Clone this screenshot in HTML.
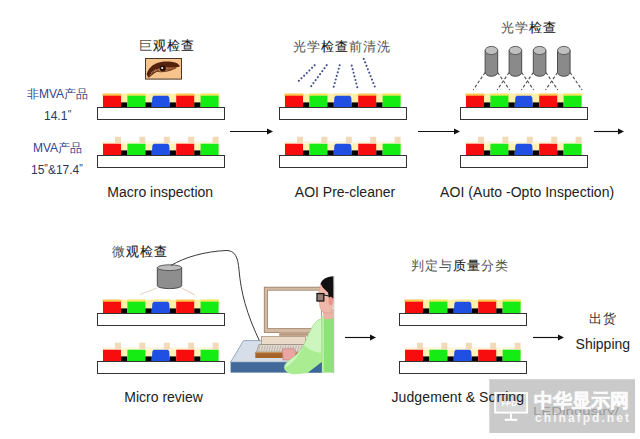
<!DOCTYPE html>
<html><head><meta charset="utf-8"><style>
html,body{margin:0;padding:0;background:#fff;}
body{width:640px;height:439px;position:relative;overflow:hidden;font-family:"Liberation Sans",sans-serif;}
svg{position:absolute;left:0;top:0;}
.t{position:absolute;white-space:nowrap;line-height:1;}
</style></head><body>
<svg width="640" height="439" viewBox="0 0 640 439">
<rect x="102.5" y="93.8" width="116.6" height="9" fill="#fff0a8"/>
<rect x="102.4" y="93.4" width="19.2" height="2.6" rx="1" fill="#ffc850"/>
<rect x="126.8" y="93.4" width="19.2" height="2.6" rx="1" fill="#f4e860"/>
<rect x="151.2" y="93.4" width="19.2" height="2.6" rx="1" fill="#ffe8a0"/>
<rect x="175.6" y="93.4" width="19.2" height="2.6" rx="1" fill="#ffc850"/>
<rect x="200.0" y="93.4" width="19.2" height="2.6" rx="1" fill="#f4e860"/>
<rect x="103.0" y="95.7" width="18.0" height="11.3" fill="#f70d0d"/>
<rect x="121.0" y="102.4" width="6.4" height="4.6" fill="#000"/>
<rect x="127.4" y="95.7" width="18.0" height="11.3" fill="#14ec14"/>
<rect x="145.4" y="102.4" width="6.4" height="4.6" fill="#000"/>
<path d="M151.6,107 L152.4,97.5 L153.6,95.7 L168.0,95.7 L169.2,97.5 L170.0,107 Z" fill="#1f4fe3"/>
<rect x="169.8" y="102.4" width="6.4" height="4.6" fill="#000"/>
<rect x="176.2" y="95.7" width="18.0" height="11.3" fill="#f70d0d"/>
<rect x="194.2" y="102.4" width="6.4" height="4.6" fill="#000"/>
<rect x="200.6" y="95.7" width="18.0" height="11.3" fill="#14ec14"/>
<rect x="97.5" y="107.5" width="127" height="12" fill="#fff" stroke="#333" stroke-width="1"/>
<rect x="102.5" y="141.6" width="116.6" height="9" fill="#fff2b4"/>
<rect x="102.5" y="141.6" width="116.6" height="2.2" fill="#fff6e0"/>
<rect x="103.0" y="143.7" width="18.0" height="11.3" fill="#f70d0d"/>
<rect x="121.0" y="150.4" width="6.4" height="4.6" fill="#000"/>
<rect x="115.0" y="136.7" width="6" height="6.5" fill="#f2d9b8"/>
<rect x="127.4" y="143.7" width="18.0" height="11.3" fill="#14ec14"/>
<rect x="145.4" y="150.4" width="6.4" height="4.6" fill="#000"/>
<rect x="139.4" y="136.7" width="6" height="6.5" fill="#f2d9b8"/>
<path d="M151.6,155 L152.4,145.5 L153.6,143.7 L168.0,143.7 L169.2,145.5 L170.0,155 Z" fill="#1f4fe3"/>
<rect x="169.8" y="150.4" width="6.4" height="4.6" fill="#000"/>
<rect x="163.8" y="136.7" width="6" height="6.5" fill="#f2d9b8"/>
<rect x="176.2" y="143.7" width="18.0" height="11.3" fill="#f70d0d"/>
<rect x="194.2" y="150.4" width="6.4" height="4.6" fill="#000"/>
<rect x="188.2" y="136.7" width="6" height="6.5" fill="#f2d9b8"/>
<rect x="200.6" y="143.7" width="18.0" height="11.3" fill="#14ec14"/>
<rect x="212.6" y="136.7" width="6" height="6.5" fill="#f2d9b8"/>
<rect x="97.5" y="155.5" width="127" height="12" fill="#fff" stroke="#333" stroke-width="1"/>
<rect x="284.5" y="93.8" width="116.6" height="9" fill="#fff0a8"/>
<rect x="284.4" y="93.4" width="19.2" height="2.6" rx="1" fill="#ffc850"/>
<rect x="308.8" y="93.4" width="19.2" height="2.6" rx="1" fill="#f4e860"/>
<rect x="333.2" y="93.4" width="19.2" height="2.6" rx="1" fill="#ffe8a0"/>
<rect x="357.6" y="93.4" width="19.2" height="2.6" rx="1" fill="#ffc850"/>
<rect x="382.0" y="93.4" width="19.2" height="2.6" rx="1" fill="#f4e860"/>
<rect x="285.0" y="95.7" width="18.0" height="11.3" fill="#f70d0d"/>
<rect x="303.0" y="102.4" width="6.4" height="4.6" fill="#000"/>
<rect x="309.4" y="95.7" width="18.0" height="11.3" fill="#14ec14"/>
<rect x="327.4" y="102.4" width="6.4" height="4.6" fill="#000"/>
<path d="M333.6,107 L334.4,97.5 L335.6,95.7 L350.0,95.7 L351.2,97.5 L352.0,107 Z" fill="#1f4fe3"/>
<rect x="351.8" y="102.4" width="6.4" height="4.6" fill="#000"/>
<rect x="358.2" y="95.7" width="18.0" height="11.3" fill="#f70d0d"/>
<rect x="376.2" y="102.4" width="6.4" height="4.6" fill="#000"/>
<rect x="382.6" y="95.7" width="18.0" height="11.3" fill="#14ec14"/>
<rect x="279.5" y="107.5" width="127" height="12" fill="#fff" stroke="#333" stroke-width="1"/>
<rect x="284.5" y="141.6" width="116.6" height="9" fill="#fff2b4"/>
<rect x="284.5" y="141.6" width="116.6" height="2.2" fill="#fff6e0"/>
<rect x="285.0" y="143.7" width="18.0" height="11.3" fill="#f70d0d"/>
<rect x="303.0" y="150.4" width="6.4" height="4.6" fill="#000"/>
<rect x="297.0" y="136.7" width="6" height="6.5" fill="#f2d9b8"/>
<rect x="309.4" y="143.7" width="18.0" height="11.3" fill="#14ec14"/>
<rect x="327.4" y="150.4" width="6.4" height="4.6" fill="#000"/>
<rect x="321.4" y="136.7" width="6" height="6.5" fill="#f2d9b8"/>
<path d="M333.6,155 L334.4,145.5 L335.6,143.7 L350.0,143.7 L351.2,145.5 L352.0,155 Z" fill="#1f4fe3"/>
<rect x="351.8" y="150.4" width="6.4" height="4.6" fill="#000"/>
<rect x="345.8" y="136.7" width="6" height="6.5" fill="#f2d9b8"/>
<rect x="358.2" y="143.7" width="18.0" height="11.3" fill="#f70d0d"/>
<rect x="376.2" y="150.4" width="6.4" height="4.6" fill="#000"/>
<rect x="370.2" y="136.7" width="6" height="6.5" fill="#f2d9b8"/>
<rect x="382.6" y="143.7" width="18.0" height="11.3" fill="#14ec14"/>
<rect x="394.6" y="136.7" width="6" height="6.5" fill="#f2d9b8"/>
<rect x="279.5" y="155.5" width="127" height="12" fill="#fff" stroke="#333" stroke-width="1"/>
<rect x="465.5" y="93.8" width="116.6" height="9" fill="#fff0a8"/>
<rect x="465.4" y="93.4" width="19.2" height="2.6" rx="1" fill="#ffc850"/>
<rect x="489.8" y="93.4" width="19.2" height="2.6" rx="1" fill="#f4e860"/>
<rect x="514.2" y="93.4" width="19.2" height="2.6" rx="1" fill="#ffe8a0"/>
<rect x="538.6" y="93.4" width="19.2" height="2.6" rx="1" fill="#ffc850"/>
<rect x="563.0" y="93.4" width="19.2" height="2.6" rx="1" fill="#f4e860"/>
<rect x="466.0" y="95.7" width="18.0" height="11.3" fill="#f70d0d"/>
<rect x="484.0" y="102.4" width="6.4" height="4.6" fill="#000"/>
<rect x="490.4" y="95.7" width="18.0" height="11.3" fill="#14ec14"/>
<rect x="508.4" y="102.4" width="6.4" height="4.6" fill="#000"/>
<path d="M514.6,107 L515.4,97.5 L516.6,95.7 L531.0,95.7 L532.2,97.5 L533.0,107 Z" fill="#1f4fe3"/>
<rect x="532.8" y="102.4" width="6.4" height="4.6" fill="#000"/>
<rect x="539.2" y="95.7" width="18.0" height="11.3" fill="#f70d0d"/>
<rect x="557.2" y="102.4" width="6.4" height="4.6" fill="#000"/>
<rect x="563.6" y="95.7" width="18.0" height="11.3" fill="#14ec14"/>
<rect x="460.5" y="107.5" width="127" height="12" fill="#fff" stroke="#333" stroke-width="1"/>
<rect x="465.5" y="141.6" width="116.6" height="9" fill="#fff2b4"/>
<rect x="465.5" y="141.6" width="116.6" height="2.2" fill="#fff6e0"/>
<rect x="466.0" y="143.7" width="18.0" height="11.3" fill="#f70d0d"/>
<rect x="484.0" y="150.4" width="6.4" height="4.6" fill="#000"/>
<rect x="478.0" y="136.7" width="6" height="6.5" fill="#f2d9b8"/>
<rect x="490.4" y="143.7" width="18.0" height="11.3" fill="#14ec14"/>
<rect x="508.4" y="150.4" width="6.4" height="4.6" fill="#000"/>
<rect x="502.4" y="136.7" width="6" height="6.5" fill="#f2d9b8"/>
<path d="M514.6,155 L515.4,145.5 L516.6,143.7 L531.0,143.7 L532.2,145.5 L533.0,155 Z" fill="#1f4fe3"/>
<rect x="532.8" y="150.4" width="6.4" height="4.6" fill="#000"/>
<rect x="526.8" y="136.7" width="6" height="6.5" fill="#f2d9b8"/>
<rect x="539.2" y="143.7" width="18.0" height="11.3" fill="#f70d0d"/>
<rect x="557.2" y="150.4" width="6.4" height="4.6" fill="#000"/>
<rect x="551.2" y="136.7" width="6" height="6.5" fill="#f2d9b8"/>
<rect x="563.6" y="143.7" width="18.0" height="11.3" fill="#14ec14"/>
<rect x="575.6" y="136.7" width="6" height="6.5" fill="#f2d9b8"/>
<rect x="460.5" y="155.5" width="127" height="12" fill="#fff" stroke="#333" stroke-width="1"/>
<rect x="102.5" y="299.8" width="116.6" height="9" fill="#fff0a8"/>
<rect x="102.4" y="299.4" width="19.2" height="2.6" rx="1" fill="#ffc850"/>
<rect x="126.8" y="299.4" width="19.2" height="2.6" rx="1" fill="#f4e860"/>
<rect x="151.2" y="299.4" width="19.2" height="2.6" rx="1" fill="#ffe8a0"/>
<rect x="175.6" y="299.4" width="19.2" height="2.6" rx="1" fill="#ffc850"/>
<rect x="200.0" y="299.4" width="19.2" height="2.6" rx="1" fill="#f4e860"/>
<rect x="103.0" y="301.7" width="18.0" height="11.3" fill="#f70d0d"/>
<rect x="121.0" y="308.4" width="6.4" height="4.6" fill="#000"/>
<rect x="127.4" y="301.7" width="18.0" height="11.3" fill="#14ec14"/>
<rect x="145.4" y="308.4" width="6.4" height="4.6" fill="#000"/>
<path d="M151.6,313 L152.4,303.5 L153.6,301.7 L168.0,301.7 L169.2,303.5 L170.0,313 Z" fill="#1f4fe3"/>
<rect x="169.8" y="308.4" width="6.4" height="4.6" fill="#000"/>
<rect x="176.2" y="301.7" width="18.0" height="11.3" fill="#f70d0d"/>
<rect x="194.2" y="308.4" width="6.4" height="4.6" fill="#000"/>
<rect x="200.6" y="301.7" width="18.0" height="11.3" fill="#14ec14"/>
<rect x="97.5" y="313.5" width="127" height="12" fill="#fff" stroke="#333" stroke-width="1"/>
<rect x="102.5" y="347.6" width="116.6" height="9" fill="#fff2b4"/>
<rect x="102.5" y="347.6" width="116.6" height="2.2" fill="#fff6e0"/>
<rect x="103.0" y="349.7" width="18.0" height="11.3" fill="#f70d0d"/>
<rect x="121.0" y="356.4" width="6.4" height="4.6" fill="#000"/>
<rect x="115.0" y="342.7" width="6" height="6.5" fill="#f2d9b8"/>
<rect x="127.4" y="349.7" width="18.0" height="11.3" fill="#14ec14"/>
<rect x="145.4" y="356.4" width="6.4" height="4.6" fill="#000"/>
<rect x="139.4" y="342.7" width="6" height="6.5" fill="#f2d9b8"/>
<path d="M151.6,361 L152.4,351.5 L153.6,349.7 L168.0,349.7 L169.2,351.5 L170.0,361 Z" fill="#1f4fe3"/>
<rect x="169.8" y="356.4" width="6.4" height="4.6" fill="#000"/>
<rect x="163.8" y="342.7" width="6" height="6.5" fill="#f2d9b8"/>
<rect x="176.2" y="349.7" width="18.0" height="11.3" fill="#f70d0d"/>
<rect x="194.2" y="356.4" width="6.4" height="4.6" fill="#000"/>
<rect x="188.2" y="342.7" width="6" height="6.5" fill="#f2d9b8"/>
<rect x="200.6" y="349.7" width="18.0" height="11.3" fill="#14ec14"/>
<rect x="212.6" y="342.7" width="6" height="6.5" fill="#f2d9b8"/>
<rect x="97.5" y="361.5" width="127" height="12" fill="#fff" stroke="#333" stroke-width="1"/>
<rect x="404.5" y="299.8" width="116.6" height="9" fill="#fff0a8"/>
<rect x="404.4" y="299.4" width="19.2" height="2.6" rx="1" fill="#ffc850"/>
<rect x="428.8" y="299.4" width="19.2" height="2.6" rx="1" fill="#f4e860"/>
<rect x="453.2" y="299.4" width="19.2" height="2.6" rx="1" fill="#ffe8a0"/>
<rect x="477.6" y="299.4" width="19.2" height="2.6" rx="1" fill="#ffc850"/>
<rect x="502.0" y="299.4" width="19.2" height="2.6" rx="1" fill="#f4e860"/>
<rect x="405.0" y="301.7" width="18.0" height="11.3" fill="#f70d0d"/>
<rect x="423.0" y="308.4" width="6.4" height="4.6" fill="#000"/>
<rect x="429.4" y="301.7" width="18.0" height="11.3" fill="#14ec14"/>
<rect x="447.4" y="308.4" width="6.4" height="4.6" fill="#000"/>
<path d="M453.6,313 L454.4,303.5 L455.6,301.7 L470.0,301.7 L471.2,303.5 L472.0,313 Z" fill="#1f4fe3"/>
<rect x="471.8" y="308.4" width="6.4" height="4.6" fill="#000"/>
<rect x="478.2" y="301.7" width="18.0" height="11.3" fill="#f70d0d"/>
<rect x="496.2" y="308.4" width="6.4" height="4.6" fill="#000"/>
<rect x="502.6" y="301.7" width="18.0" height="11.3" fill="#14ec14"/>
<rect x="399.5" y="313.5" width="127" height="12" fill="#fff" stroke="#333" stroke-width="1"/>
<rect x="404.5" y="347.6" width="116.6" height="9" fill="#fff2b4"/>
<rect x="404.5" y="347.6" width="116.6" height="2.2" fill="#fff6e0"/>
<rect x="405.0" y="349.7" width="18.0" height="11.3" fill="#f70d0d"/>
<rect x="423.0" y="356.4" width="6.4" height="4.6" fill="#000"/>
<rect x="417.0" y="342.7" width="6" height="6.5" fill="#f2d9b8"/>
<rect x="429.4" y="349.7" width="18.0" height="11.3" fill="#14ec14"/>
<rect x="447.4" y="356.4" width="6.4" height="4.6" fill="#000"/>
<rect x="441.4" y="342.7" width="6" height="6.5" fill="#f2d9b8"/>
<path d="M453.6,361 L454.4,351.5 L455.6,349.7 L470.0,349.7 L471.2,351.5 L472.0,361 Z" fill="#1f4fe3"/>
<rect x="471.8" y="356.4" width="6.4" height="4.6" fill="#000"/>
<rect x="465.8" y="342.7" width="6" height="6.5" fill="#f2d9b8"/>
<rect x="478.2" y="349.7" width="18.0" height="11.3" fill="#f70d0d"/>
<rect x="496.2" y="356.4" width="6.4" height="4.6" fill="#000"/>
<rect x="490.2" y="342.7" width="6" height="6.5" fill="#f2d9b8"/>
<rect x="502.6" y="349.7" width="18.0" height="11.3" fill="#14ec14"/>
<rect x="514.6" y="342.7" width="6" height="6.5" fill="#f2d9b8"/>
<rect x="399.5" y="361.5" width="127" height="12" fill="#fff" stroke="#333" stroke-width="1"/>
<line x1="230" y1="131.5" x2="269" y2="131.5" stroke="#111" stroke-width="1.15"/><polygon points="267,128.6 273,131.5 267,134.4" fill="#111"/>
<line x1="418" y1="131.5" x2="456" y2="131.5" stroke="#111" stroke-width="1.15"/><polygon points="454,128.6 460,131.5 454,134.4" fill="#111"/>
<line x1="594" y1="131.5" x2="620" y2="131.5" stroke="#111" stroke-width="1.15"/><polygon points="618,128.6 624,131.5 618,134.4" fill="#111"/>
<line x1="345" y1="337.5" x2="372" y2="337.5" stroke="#111" stroke-width="1.15"/><polygon points="370,334.6 376,337.5 370,340.4" fill="#111"/>
<line x1="533" y1="337.5" x2="560" y2="337.5" stroke="#111" stroke-width="1.15"/><polygon points="558,334.6 564,337.5 558,340.4" fill="#111"/>
<line x1="314.7" y1="65.2" x2="297.8" y2="81.9" stroke="#40508f" stroke-width="2.1" stroke-linecap="round" stroke-dasharray="0.01 3.7"/>
<line x1="326.7" y1="65.2" x2="310" y2="87.8" stroke="#40508f" stroke-width="2.1" stroke-linecap="round" stroke-dasharray="0.01 3.7"/>
<line x1="339.7" y1="65.2" x2="333.4" y2="88" stroke="#40508f" stroke-width="2.1" stroke-linecap="round" stroke-dasharray="0.01 3.7"/>
<line x1="351.7" y1="65.6" x2="357.5" y2="88" stroke="#40508f" stroke-width="2.1" stroke-linecap="round" stroke-dasharray="0.01 3.7"/>
<line x1="363.75" y1="58.9" x2="375.6" y2="88.6" stroke="#40508f" stroke-width="2.1" stroke-linecap="round" stroke-dasharray="0.01 3.7"/>
<path d="M485.1,50.5 L485.1,72.2 A6.3,4.1 0 0 0 497.70000000000005,72.2 L497.70000000000005,50.5 Z" fill="#8a8a8a" stroke="#404040" stroke-width="0.9"/><ellipse cx="491.40000000000003" cy="50.5" rx="6.3" ry="4.1" fill="#c0c0c0" stroke="#505050" stroke-width="0.9"/>
<path d="M509.1,50.5 L509.1,72.2 A6.3,4.1 0 0 0 521.7,72.2 L521.7,50.5 Z" fill="#8a8a8a" stroke="#404040" stroke-width="0.9"/><ellipse cx="515.4" cy="50.5" rx="6.3" ry="4.1" fill="#c0c0c0" stroke="#505050" stroke-width="0.9"/>
<path d="M533.3,50.5 L533.3,72.2 A6.3,4.1 0 0 0 545.9,72.2 L545.9,50.5 Z" fill="#8a8a8a" stroke="#404040" stroke-width="0.9"/><ellipse cx="539.5999999999999" cy="50.5" rx="6.3" ry="4.1" fill="#c0c0c0" stroke="#505050" stroke-width="0.9"/>
<path d="M557.5,50.5 L557.5,72.2 A6.3,4.1 0 0 0 570.1,72.2 L570.1,50.5 Z" fill="#8a8a8a" stroke="#404040" stroke-width="0.9"/><ellipse cx="563.8" cy="50.5" rx="6.3" ry="4.1" fill="#c0c0c0" stroke="#505050" stroke-width="0.9"/>
<line x1="485.1" y1="72.5" x2="473.1" y2="90" stroke="#505050" stroke-width="1.1" stroke-dasharray="3 2"/>
<line x1="497.70000000000005" y1="72.5" x2="509.70000000000005" y2="90" stroke="#505050" stroke-width="1.1" stroke-dasharray="3 2"/>
<line x1="509.1" y1="72.5" x2="497.1" y2="90" stroke="#505050" stroke-width="1.1" stroke-dasharray="3 2"/>
<line x1="521.7" y1="72.5" x2="533.7" y2="90" stroke="#505050" stroke-width="1.1" stroke-dasharray="3 2"/>
<line x1="533.3" y1="72.5" x2="521.3" y2="90" stroke="#505050" stroke-width="1.1" stroke-dasharray="3 2"/>
<line x1="545.9" y1="72.5" x2="557.9" y2="90" stroke="#505050" stroke-width="1.1" stroke-dasharray="3 2"/>
<line x1="557.5" y1="72.5" x2="545.5" y2="90" stroke="#505050" stroke-width="1.1" stroke-dasharray="3 2"/>
<line x1="570.1" y1="72.5" x2="582.1" y2="90" stroke="#505050" stroke-width="1.1" stroke-dasharray="3 2"/>
<rect x="145.5" y="58.5" width="36" height="20.6" fill="#f7c38d" stroke="#4a3626" stroke-width="1"/>
<path d="M158,68.2 C163,66 170,66.4 177.5,67.4 C174,69.6 168,71.6 162,71.9 C159,71.7 157,70.6 156.4,69.8 Z" fill="#a8683e" fill-opacity="0.75"/>
<path d="M146.6,74.5 C148.3,68.5 152.5,64.5 158,62.8 C164,61 172,61.2 177.5,63.4 L180.2,66.2 C176,68 171,67.4 166,67.2 C160,67.2 156,69.6 153,72.6 C151.4,74.6 149.8,76.4 148.2,77.2 Z" fill="#55220e"/>
<path d="M148.4,77.4 C151.5,74.5 154.5,72 158.5,70.4" stroke="#5a2a12" stroke-width="1.3" fill="none"/>
<path d="M151,73 L153.5,71 M153.5,71.3 L156,69.2 M149.5,75.5 L152,73.2" stroke="#c08858" stroke-width="0.7"/>
<circle cx="162.8" cy="68.6" r="3.1" fill="#2a1008"/>
<circle cx="162.2" cy="68" r="1" fill="#fff"/>
<path d="M156,71.2 Q165,73.4 176,67.8" stroke="#7a4020" stroke-width="1" fill="none"/><path d="M166,69.5 L170,68.6 M168,70.4 L173,68.8" stroke="#6a3418" stroke-width="0.8"/>
<line x1="157" y1="288" x2="140" y2="294.5" stroke="#e6d8cc" stroke-width="1.3"/>
<line x1="181.5" y1="288" x2="195" y2="295" stroke="#e6d8cc" stroke-width="1.3"/>
<path d="M157.3,267.7 L157.3,285.70000000000005 A12.2,2.9 0 0 0 181.70000000000002,285.70000000000005 L181.70000000000002,267.7 Z" fill="#8e8e8e" stroke="#404040" stroke-width="0.9"/><ellipse cx="169.5" cy="267.7" rx="12.2" ry="2.9" fill="#bdbdbd" stroke="#505050" stroke-width="0.9"/>
<path d="M171,265.5 C185,257 205,251.5 226,250.5 C235,250.3 238,257 239,270 C241,292 246,313 260.5,343" stroke="#3a3a3a" stroke-width="1" fill="none"/>
<path d="M243.5,340.6 L322,340.6 L322,362.2 L230.6,362.2 Z" fill="#d6dee9" stroke="#7f95b3" stroke-width="0.8"/>
<rect x="230.6" y="362.2" width="92" height="10.4" fill="#42699a"/>
<rect x="264.3" y="287.2" width="58" height="45.2" fill="#d4bca4" stroke="#9a8068" stroke-width="0.9"/><rect x="320.6" y="300" width="3" height="33" fill="#fff"/>
<rect x="267.6" y="290.2" width="54" height="38.4" fill="#fff" stroke="#a48a74" stroke-width="0.9"/>
<rect x="279.2" y="332" width="29" height="4.4" fill="#c4a68e"/><line x1="279.2" y1="334.2" x2="308.2" y2="334.2" stroke="#a88a72" stroke-width="0.6"/>
<rect x="261.5" y="336.4" width="44" height="8.1" fill="#eadbc8" stroke="#a48a70" stroke-width="0.7"/>
<path d="M259,344.5 L304,344.5 L302.5,352 L256.5,352 Z" fill="#e2dad0" stroke="#8a7a6a" stroke-width="0.6"/>
<path d="M260.0,345.6 L258.5,351.4 M262.6,345.6 L261.1,351.4 M265.2,345.6 L263.7,351.4 M267.8,345.6 L266.3,351.4 M270.4,345.6 L268.9,351.4 M273.0,345.6 L271.5,351.4 M275.6,345.6 L274.1,351.4 M278.2,345.6 L276.7,351.4 M280.8,345.6 L279.3,351.4 M283.4,345.6 L281.9,351.4 M286.0,345.6 L284.5,351.4 M288.6,345.6 L287.1,351.4 M291.2,345.6 L289.7,351.4 M293.8,345.6 L292.3,351.4 M296.4,345.6 L294.9,351.4 M299.0,345.6 L297.5,351.4 M301.6,345.6 L300.1,351.4" stroke="#9a9088" stroke-width="0.55"/>
<rect x="255.3" y="352" width="43" height="6" fill="#a4642c"/>
<rect x="255.3" y="352" width="43" height="1.2" fill="#c8905a"/>
<path d="M282.3,349 L293.5,348.5 L296,352 L295,360 L283,360 Z" fill="#eaa6a2" stroke="#c07a78" stroke-width="0.6"/>
<rect x="321.5" y="316" width="12.3" height="56.6" fill="#8fe27a"/>
<rect x="321.5" y="316" width="2.5" height="56.6" fill="#b6f0a4"/>
<path d="M317.5,320.5 C313,324 310,331 306.5,339 C303,347 299,353 293,357.5 C288,361 284.3,364 284.3,367.5 C285,371.5 289,373.6 295,373.8 L308.2,372.6 L321.8,362 L321.8,318.5 Z" fill="#cdf5be" stroke="#92d882" stroke-width="0.7"/>
<path d="M304,345 C309,350 314,352 321.8,353 L321.8,362 L308.2,372.6 L295,373.8 C289,373.6 285,371.5 284.5,368 C292,364 299,356 304,345 Z" fill="#a9ec92"/>
<path d="M321.8,362 L308.2,372.6 L321.8,372.6 Z" fill="#3c6796"/>
<path d="M322.5,311 L333.6,309 L333.6,318.5 L324,319.5 Z" fill="#eab3a3"/>
<path d="M321,283 C319.8,287 319,290 318.6,293 L318.6,301 L319.6,304 C319.6,308 321,311 324,312.6 L331.5,313.2 L333.6,298 L333.6,283 Z" fill="#efb9aa" stroke="#c08878" stroke-width="0.4"/>
<path d="M320.6,283.6 C322,279.6 326,276.6 333.6,276.2 L333.6,298.6 L329,298.6 L328,292.5 C326.2,290.5 324.4,289.2 322.8,287.4 Z" fill="#111"/>
<rect x="317" y="293.6" width="6.8" height="7.4" fill="#5a4a48" fill-opacity="0.55" stroke="#151515" stroke-width="1.3"/>
<line x1="323.8" y1="295" x2="329" y2="296" stroke="#151515" stroke-width="1"/>
<ellipse cx="330.7" cy="301" rx="2.2" ry="4.2" fill="#e8948a"/>
<line x1="333.8" y1="276" x2="333.8" y2="373.5" stroke="#b8b8b8" stroke-width="0.8"/>
<rect x="489.3" y="379.2" width="145.7" height="53.8" fill="#cacaca"/>
<rect x="495.2" y="393" width="31.9" height="19.6" fill="#d8d8d8"/>
</svg>
<div class="t" style="left:139px;top:39px;font-size:13.4px;letter-spacing:1px;color:#505050">巨<b style="font-weight:400;color:#1a1a1a;-webkit-text-stroke:0.12px #1a1a1a">观检查</b></div>
<div class="t" style="left:292.6px;top:40px;font-size:13.4px;letter-spacing:1px;color:#505050">光学<b style="font-weight:400;color:#1a1a1a;-webkit-text-stroke:0.12px #1a1a1a">检查</b>前清洗</div>
<div class="t" style="left:501.3px;top:21.2px;font-size:13.4px;letter-spacing:1px;color:#505050">光学<b style="font-weight:400;color:#1a1a1a;-webkit-text-stroke:0.12px #1a1a1a">检查</b></div>
<div class="t" style="left:27px;top:88px;font-size:12px;color:#32448a">非MVA产品</div>
<div class="t" style="left:44px;top:110px;font-size:12px;color:#2b3560">14.1<span style="font-size:10px;position:relative;top:-2.5px;margin-left:0.3px">"</span></div>
<div class="t" style="left:33px;top:142px;font-size:12px;color:#32448a">MVA产品</div>
<div class="t" style="left:31px;top:164px;font-size:12px;color:#2b3560">15<span style="font-size:10px;position:relative;top:-2.5px">"</span>&amp;17.4<span style="font-size:10px;position:relative;top:-2.5px">"</span></div>
<div class="t" style="left:107.3px;top:184.8px;font-size:14px;color:#222">Macro inspection</div>
<div class="t" style="left:294.8px;top:184.8px;font-size:14px;color:#222">AOI Pre-cleaner</div>
<div class="t" style="left:440.1px;top:185px;font-size:14px;letter-spacing:0.05px;color:#222">AOI (Auto -Opto Inspection)</div>
<div class="t" style="left:111.5px;top:244.5px;font-size:13.4px;letter-spacing:1px;color:#505050">微<b style="font-weight:400;color:#1a1a1a;-webkit-text-stroke:0.12px #1a1a1a">观检查</b></div>
<div class="t" style="left:411px;top:258.5px;font-size:13.4px;letter-spacing:1px;color:#505050">判定与<b style="font-weight:400;color:#1a1a1a;-webkit-text-stroke:0.12px #1a1a1a">质量</b>分类</div>
<div class="t" style="left:589px;top:311.5px;font-size:13.4px;letter-spacing:1px;color:#333">出货</div>
<div class="t" style="left:575.6px;top:336.8px;font-size:14px;color:#222">Shipping</div>
<div class="t" style="left:124.3px;top:390.1px;font-size:14px;color:#222">Micro review</div>
<div class="t" style="left:391.5px;top:390.2px;font-size:14px;letter-spacing:0.1px;color:#222">Judgement &amp; Sorting</div>
<svg width="640" height="439" viewBox="0 0 640 439">
<text x="533" y="414.8" font-family="Liberation Sans" font-size="10" fill="#8a8a8a" fill-opacity="0.75" textLength="86" lengthAdjust="spacingAndGlyphs">LEDindustry/</text>
<rect x="495.2" y="393" width="31.9" height="19.6" fill="none" stroke="#fff" stroke-width="1.9"/>
<rect x="510" y="413.6" width="1.9" height="5.5" fill="#fff"/>
<rect x="504.7" y="418.8" width="12.6" height="2" fill="#fff"/>
<text x="501.4" y="405.6" font-family="Liberation Sans" font-weight="bold" font-size="6.5" fill="#fff" textLength="15.5" lengthAdjust="spacingAndGlyphs">FPD</text>
<text x="535" y="421.5" font-family="Liberation Sans" font-weight="bold" font-size="12" fill="#f6f6f6" textLength="94" lengthAdjust="spacing">chinafpd.net</text>
<text x="534.3" y="406.6" font-family="Liberation Sans" font-weight="900" font-size="18.5" fill="#fbfbfb" stroke="#fbfbfb" stroke-width="0.6" textLength="94.5" lengthAdjust="spacing">中华显示网</text>
</svg>
</body></html>
